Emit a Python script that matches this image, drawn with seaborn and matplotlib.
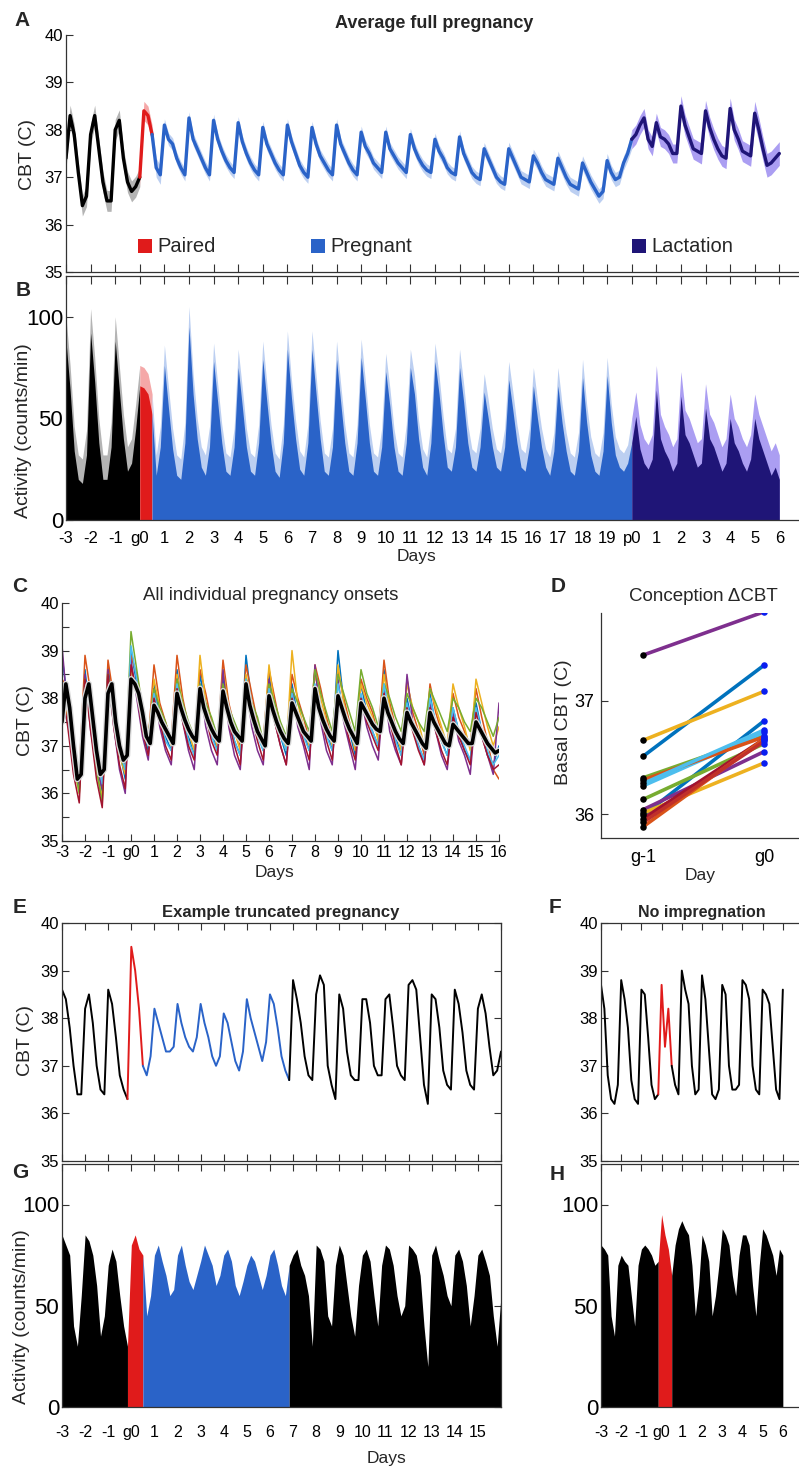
import numpy as np
import pandas as pd
import seaborn as sns
import matplotlib.pyplot as plt
from matplotlib.patches import Rectangle

W, H = 799, 1467

# ---------------- data ----------------
# A: mean CBT, 6 samples per day from day -3 to day 26 (p0 = day 20)
cbt_avg = [
    37.4, 38.3, 37.9, 37.1, 36.4, 36.6,
    37.9, 38.3, 37.6, 36.9, 36.5, 36.5,
    38.0, 38.2, 37.4, 36.9, 36.7, 36.8,
    37.0, 38.4, 38.3, 37.9, 37.2, 37.05,
    38.1, 37.8, 37.7, 37.4, 37.2, 37.05,
    38.25, 37.8, 37.6, 37.4, 37.2, 37.05,
    38.2, 37.8, 37.55, 37.35, 37.2, 37.1,
    38.15, 37.75, 37.5, 37.3, 37.15, 37.05,
    38.05, 37.7, 37.5, 37.3, 37.15, 37.05,
    38.1, 37.75, 37.5, 37.25, 37.1, 37.0,
    38.05, 37.7, 37.45, 37.3, 37.15, 37.05,
    38.1, 37.7, 37.5, 37.3, 37.15, 37.05,
    37.95, 37.65, 37.5, 37.3, 37.2, 37.1,
    37.95, 37.6, 37.45, 37.3, 37.2, 37.1,
    37.9, 37.6, 37.4, 37.25, 37.15, 37.1,
    37.8, 37.55, 37.4, 37.2, 37.1, 37.05,
    37.85, 37.5, 37.3, 37.1, 37.0, 36.95,
    37.6, 37.4, 37.2, 37.0, 36.9, 36.85,
    37.6, 37.4, 37.2, 37.0, 36.95, 36.9,
    37.45, 37.3, 37.1, 36.95, 36.9, 36.85,
    37.4, 37.2, 37.0, 36.85, 36.8, 36.75,
    37.3, 37.1, 36.9, 36.75, 36.6, 36.7,
    37.35, 37.1, 36.95, 37.0, 37.3, 37.5,
    37.8, 37.9, 38.1, 38.25, 37.8, 37.65,
    38.15, 37.85, 37.8, 37.7, 37.5, 37.5,
    38.5, 38.1, 37.85, 37.6, 37.55, 37.5,
    38.4, 38.05, 37.8, 37.6, 37.45, 37.4,
    38.45, 38.0, 37.8, 37.55, 37.5, 37.45,
    38.35, 38.0, 37.6, 37.25, 37.3, 37.4,
    37.5,
]
cbt_avg_sem = [0.22, 0.22, 0.22, 0.2,
               0.13, 0.13, 0.13, 0.13, 0.13, 0.13, 0.13, 0.13, 0.13, 0.13,
               0.13, 0.13, 0.13, 0.13, 0.14, 0.14, 0.15, 0.15, 0.15,
               0.2, 0.2, 0.22, 0.22, 0.22, 0.25]

# B: mean activity, same sampling
act_avg = [
    88, 64, 34, 20, 18, 32,
    92, 68, 38, 20, 20, 36,
    88, 64, 40, 24, 28, 45,
    66, 65, 62, 52, 22, 36,
    76, 55, 35, 22, 20, 38,
    95, 62, 40, 26, 22, 36,
    78, 58, 38, 24, 22, 36,
    75, 56, 36, 24, 22, 38,
    79, 58, 38, 24, 21, 38,
    84, 60, 40, 25, 22, 38,
    84, 62, 40, 24, 22, 36,
    79, 58, 38, 24, 22, 38,
    80, 60, 38, 24, 22, 36,
    73, 56, 36, 24, 22, 38,
    75, 62, 40, 26, 22, 38,
    78, 62, 42, 26, 24, 36,
    75, 58, 38, 26, 24, 36,
    63, 50, 36, 26, 24, 36,
    69, 54, 38, 26, 24, 36,
    66, 50, 36, 26, 22, 34,
    66, 48, 34, 24, 22, 34,
    70, 48, 32, 24, 22, 34,
    71, 48, 32, 26, 24, 28,
    38, 51, 35, 28, 25, 30,
    64, 40, 34, 30, 24, 28,
    61, 42, 38, 32, 26, 28,
    55, 40, 36, 30, 24, 28,
    50, 38, 34, 28, 24, 30,
    50, 40, 34, 28, 22, 26,
    20,
]
act_avg_sem = [12, 12, 12, 10,
               10, 10, 9, 9, 9, 9, 9, 9, 9, 9,
               9, 9, 9, 9, 9, 9, 9, 9, 9,
               12, 12, 12, 12, 12, 12]

# C: group mean (6/day) and individual traces (4/day), day -3 to 16
onset_mean = [
    37.5, 38.3, 37.8, 37.0, 36.3, 36.4,
    38.0, 38.3, 37.6, 36.9, 36.4, 36.5,
    38.1, 38.3, 37.5, 37.0, 36.7, 36.8,
    38.4, 38.3, 38.1, 37.7, 37.2, 37.05,
    37.85, 37.7, 37.5, 37.35, 37.2, 37.05,
    38.1, 37.8, 37.55, 37.35, 37.2, 37.1,
    38.2, 37.8, 37.55, 37.35, 37.2, 37.1,
    38.15, 37.8, 37.5, 37.3, 37.2, 37.1,
    38.3, 37.85, 37.55, 37.3, 37.15, 37.0,
    38.05, 37.75, 37.5, 37.3, 37.15, 37.05,
    37.9, 37.7, 37.5, 37.3, 37.2, 37.1,
    38.2, 37.8, 37.55, 37.35, 37.2, 37.1,
    38.05, 37.8, 37.55, 37.35, 37.2, 37.05,
    37.9, 37.75, 37.6, 37.45, 37.35, 37.3,
    38.0, 37.7, 37.5, 37.3, 37.15, 37.05,
    37.7, 37.5, 37.35, 37.2, 37.05, 36.95,
    37.7, 37.5, 37.35, 37.2, 37.05, 37.0,
    37.45, 37.35, 37.25, 37.15, 37.05, 37.05,
    37.5, 37.35, 37.2, 37.05, 36.95, 36.85,
    36.9,
]
ind_blue = [38.9, 37.9, 36.8, 36.1, 38.6, 37.5, 36.6, 36.0, 38.7, 37.6, 36.9, 36.3,
            39.0, 38.3, 37.3, 36.9, 38.3, 37.6, 37.2, 36.9, 38.6, 37.7, 37.2, 36.8,
            38.5, 37.8, 37.3, 36.9, 38.4, 37.6, 37.1, 36.8, 38.9, 37.9, 37.3, 36.9,
            38.5, 37.7, 37.2, 36.8, 38.3, 37.6, 37.3, 36.9, 38.6, 37.8, 37.3, 36.9,
            39.0, 37.9, 37.3, 36.8, 38.3, 37.7, 37.3, 37.0, 38.6, 37.7, 37.2, 36.8,
            38.0, 37.4, 37.0, 36.7, 38.1, 37.4, 37.1, 36.8, 37.8, 37.3, 36.9, 36.7,
            37.9, 37.3, 36.8, 36.6, 37.0]
ind_orange = [38.4, 38.2, 37.2, 36.4, 38.9, 38.1, 36.9, 36.2, 38.8, 38.0, 37.1, 36.6,
              38.9, 38.5, 37.8, 37.1, 38.7, 37.9, 37.5, 37.1, 38.9, 38.0, 37.4, 37.1,
              38.6, 38.1, 37.5, 37.0, 38.8, 37.9, 37.4, 37.0, 38.7, 38.1, 37.5, 37.1,
              38.6, 38.0, 37.4, 37.0, 38.5, 38.0, 37.6, 37.1, 38.7, 38.2, 37.6, 37.1,
              38.6, 38.0, 37.5, 37.0, 38.4, 38.0, 37.7, 37.2, 38.8, 37.9, 37.4, 37.0,
              38.4, 37.7, 37.3, 36.8, 38.3, 37.7, 37.3, 37.0, 38.1, 37.6, 37.3, 37.0,
              38.2, 37.6, 37.1, 36.5, 36.3]
ind_yellow = [38.0, 37.6, 36.6, 36.0, 38.3, 37.4, 36.5, 35.9, 38.4, 37.5, 36.8, 36.4,
              38.6, 38.2, 37.6, 37.0, 38.4, 37.8, 37.4, 37.0, 38.5, 37.9, 37.3, 36.9,
              38.9, 37.9, 37.4, 37.0, 38.6, 37.8, 37.3, 36.9, 38.5, 37.9, 37.4, 37.0,
              38.7, 37.8, 37.3, 36.9, 39.0, 37.9, 37.4, 37.0, 38.5, 38.0, 37.5, 37.0,
              38.7, 37.9, 37.4, 36.9, 38.3, 37.9, 37.6, 37.1, 38.5, 37.8, 37.3, 36.9,
              38.3, 37.8, 37.5, 37.0, 38.2, 37.8, 37.4, 37.0, 38.3, 37.8, 37.4, 36.9,
              38.4, 37.9, 37.4, 37.0, 37.4]
ind_purple = [39.1, 37.7, 36.5, 36.2, 38.5, 37.3, 36.6, 36.1, 38.6, 37.4, 36.5, 36.0,
              38.8, 38.0, 37.2, 36.7, 38.2, 37.4, 36.9, 36.6, 38.4, 37.5, 36.9, 36.5,
              38.3, 37.4, 36.9, 36.6, 38.6, 37.4, 36.8, 36.5, 38.3, 37.4, 36.9, 36.6,
              38.4, 37.5, 37.0, 36.6, 38.2, 37.4, 37.0, 36.5, 38.7, 37.5, 36.9, 36.6,
              38.4, 37.5, 37.0, 36.5, 38.0, 37.4, 37.0, 36.7, 38.2, 37.3, 36.9, 36.6,
              38.5, 37.5, 37.0, 36.6, 37.9, 37.3, 36.8, 36.5, 37.7, 37.1, 36.8, 36.4,
              37.8, 37.2, 36.8, 36.4, 37.9]
ind_green = [38.3, 37.8, 36.7, 36.0, 38.4, 37.6, 36.5, 35.8, 38.5, 37.7, 36.8, 36.5,
             39.4, 38.6, 37.8, 37.2, 38.2, 37.8, 37.5, 37.1, 38.4, 37.9, 37.5, 37.2,
             38.3, 37.9, 37.6, 37.2, 38.3, 37.8, 37.5, 37.2, 38.4, 37.9, 37.6, 37.1,
             38.3, 37.9, 37.5, 37.2, 38.2, 37.9, 37.6, 37.3, 38.6, 38.1, 37.7, 37.3,
             38.5, 38.1, 37.7, 37.3, 38.6, 38.1, 37.8, 37.4, 38.3, 38.0, 37.6, 37.3,
             38.1, 37.8, 37.5, 37.3, 38.2, 37.9, 37.6, 37.3, 38.0, 37.8, 37.5, 37.3,
             38.0, 37.8, 37.5, 37.2, 37.6]
ind_lightblue = [37.8, 37.5, 36.8, 36.3, 38.2, 37.6, 36.8, 36.2, 38.3, 37.5, 36.9, 36.5,
                 39.1, 38.4, 37.4, 37.0, 38.1, 37.6, 37.1, 36.9, 38.3, 37.6, 37.1, 36.8,
                 38.2, 37.7, 37.2, 36.9, 38.2, 37.5, 37.1, 36.8, 38.4, 37.7, 37.2, 36.9,
                 38.2, 37.6, 37.2, 36.9, 38.1, 37.6, 37.2, 36.9, 38.3, 37.7, 37.2, 36.9,
                 38.3, 37.7, 37.3, 37.0, 38.1, 37.6, 37.3, 37.0, 38.3, 37.6, 37.1, 36.8,
                 37.9, 37.4, 37.0, 36.7, 38.0, 37.5, 37.1, 36.8, 37.8, 37.3, 37.0, 36.7,
                 37.8, 37.3, 36.9, 36.6, 36.8]
ind_darkred = [38.2, 37.4, 36.4, 35.8, 38.4, 37.3, 36.3, 35.7, 38.5, 37.4, 36.6, 36.1,
               38.7, 38.1, 37.3, 36.8, 38.0, 37.5, 37.0, 36.7, 38.2, 37.5, 37.0, 36.7,
               38.1, 37.6, 37.1, 36.8, 38.1, 37.5, 37.0, 36.6, 38.2, 37.6, 37.1, 36.7,
               38.1, 37.5, 37.0, 36.6, 38.0, 37.5, 37.1, 36.7, 38.2, 37.6, 37.1, 36.7,
               38.1, 37.6, 37.1, 36.7, 38.0, 37.5, 37.2, 36.9, 38.1, 37.5, 37.0, 36.6,
               37.8, 37.3, 36.9, 36.6, 37.8, 37.3, 36.9, 36.6, 37.6, 37.2, 36.9, 36.6,
               37.7, 37.2, 36.8, 36.5, 36.6]

# D: basal CBT day before and day of conception
basal_gm1 = [37.40, 36.51, 36.65, 35.99, 36.32, 36.25, 36.30,
             36.13, 36.04, 36.01, 35.96, 35.89, 35.93, 36.27]
basal_g0 = [37.78, 37.31, 37.08, 36.82, 36.69, 36.72, 36.68,
            36.62, 36.55, 36.45, 36.66, 36.66, 36.64, 36.74]

# E: truncated pregnancy CBT (6/day, day -3 to 16)
cbt_trunc = [
    38.6, 38.4, 37.8, 37.0, 36.4, 36.4,
    38.2, 38.5, 37.9, 37.0, 36.5, 36.4,
    38.6, 38.3, 37.6, 36.8, 36.5, 36.3,
    39.5, 39.0, 38.2, 37.0, 36.8, 37.2,
    38.2, 37.9, 37.6, 37.3, 37.3, 37.4,
    38.3, 37.9, 37.6, 37.4, 37.3, 37.6,
    38.3, 37.9, 37.6, 37.2, 37.0, 37.2,
    38.1, 37.9, 37.5, 37.1, 36.9, 37.3,
    38.4, 38.0, 37.7, 37.4, 37.1, 37.5,
    38.5, 38.3, 37.8, 37.2, 36.9, 36.7,
    38.8, 38.4, 37.9, 37.2, 36.8, 36.7,
    38.5, 38.9, 38.7, 37.0, 36.6, 36.3,
    38.5, 38.2, 37.3, 36.8, 36.7, 36.7,
    38.4, 38.4, 37.9, 37.0, 36.8, 36.8,
    38.4, 38.5, 37.8, 37.0, 36.8, 36.7,
    38.7, 38.8, 38.6, 37.6, 36.6, 36.2,
    38.5, 38.4, 37.8, 36.9, 36.6, 36.5,
    38.6, 38.3, 37.7, 36.9, 36.6, 36.5,
    38.2, 38.5, 38.1, 37.4, 36.8, 36.9,
    37.3,
]
# F: no impregnation CBT (6/day, day -3 to 6)
cbt_noimp = [
    38.7, 38.2, 36.8, 36.3, 36.2, 36.6,
    38.8, 38.4, 37.8, 36.7, 36.3, 36.2,
    38.6, 38.5, 37.6, 36.6, 36.3, 36.4,
    38.7, 37.4, 38.2, 37.0, 36.6, 36.4,
    39.0, 38.6, 38.3, 37.0, 36.4, 36.5,
    38.9, 38.4, 37.4, 36.4, 36.3, 36.5,
    38.7, 38.5, 37.0, 36.5, 36.5, 36.6,
    38.8, 38.7, 38.4, 37.0, 36.5, 36.4,
    38.6, 38.5, 38.3, 37.4, 36.5, 36.3,
    38.6,
]
# G: truncated pregnancy activity (6/day, day -3 to 16)
act_trunc = [
    85, 80, 75, 40, 30, 55,
    85, 82, 75, 60, 35, 45,
    70, 78, 72, 55, 40, 30,
    80, 85, 78, 75, 45, 55,
    75, 80, 72, 65, 55, 58,
    75, 80, 70, 62, 58, 65,
    72, 80, 75, 70, 60, 65,
    75, 78, 72, 60, 55, 62,
    70, 75, 72, 65, 58, 65,
    75, 78, 70, 60, 55, 70,
    75, 78, 70, 65, 55, 30,
    80, 78, 72, 45, 40, 70,
    80, 75, 60, 45, 35, 60,
    75, 78, 72, 55, 40, 70,
    80, 78, 70, 55, 45, 50,
    80, 78, 75, 65, 40, 20,
    75, 80, 72, 65, 55, 50,
    75, 78, 72, 60, 40, 55,
    75, 78, 72, 65, 45, 30,
    55,
]
# H: no impregnation activity (6/day, day -3 to 6)
act_noimp = [
    80, 78, 75, 45, 35, 70,
    75, 72, 70, 55, 40, 70,
    78, 80, 78, 75, 70, 72,
    95, 85, 78, 65, 80, 88,
    92, 88, 85, 70, 45, 60,
    85, 80, 72, 45, 55, 70,
    88, 85, 80, 65, 55, 75,
    85, 85, 80, 60, 45, 70,
    88, 85, 80, 75, 65, 78,
    75,
]

long_days = ['-3', '-2', '-1', 'g0'] + [str(i) for i in range(1, 20)] + ['p0'] + [str(i) for i in range(1, 7)]
onset_days = ['-3', '-2', '-1', 'g0'] + [str(i) for i in range(1, 17)]

# ---------------- styling ----------------
sns.set_style("ticks")
plt.rcParams['font.family'] = ['Liberation Sans', 'DejaVu Sans']
plt.rcParams.update({
    'xtick.direction': 'in', 'ytick.direction': 'in',
    'axes.linewidth': 0.9, 'axes.edgecolor': '#333333',
    'xtick.color': '#333333', 'ytick.color': '#333333',
    'xtick.labelcolor': 'black', 'ytick.labelcolor': 'black',
})

BLACK, RED, BLUE, NAVY = '#000000', '#e01b1b', '#2a63c8', '#1f1577'
GREY_B, RED_B, BLUE_B, NAVY_B = '#b4b4b4', '#f5a8a8', '#bccff1', '#ab9ef2'
MATLAB = ['#0072BD', '#D95319', '#EDB120', '#7E2F8E', '#77AC30', '#4DBEEE', '#A2142F']

fig = plt.figure(figsize=(W / 100, H / 100), dpi=100)


def px_axes(l, t, r, b):
    return fig.add_axes([l / W, 1 - b / H, (r - l) / W, (b - t) / H])


def px_text(x, y, s, **kw):
    kw.setdefault('ha', 'center')
    kw.setdefault('va', 'center')
    fig.text(x / W, 1 - y / H, s, **kw)


def days_axis(n, per_day=6):
    return np.arange(n) / per_day - 3


def draw_line(ax, x, y, segs, lw, band=None):
    for d0, d1, col, bcol in segs:
        m = (x >= d0 - 1e-6) & (x <= d1 + 1e-6)
        if band is not None:
            ax.fill_between(x[m], y[m] - band[m], y[m] + band[m], color=bcol, lw=0)
        sns.lineplot(x=x[m], y=y[m], ax=ax, color=col, lw=lw)


def draw_fill(ax, x, y, segs, band=None):
    for d0, d1, col, bcol in segs:
        m = (x >= d0 - 1e-6) & (x <= d1 + 1e-6)
        if band is not None:
            ax.fill_between(x[m], 0, y[m] + band[m], color=bcol, lw=0)
        ax.fill_between(x[m], 0, y[m], color=col, lw=0)


# ---------------- A ----------------
axA = px_axes(66, 35, 799, 272)
xa = days_axis(len(cbt_avg))
sem_a = np.append(np.repeat(cbt_avg_sem, 6), cbt_avg_sem[-1])
segs_a = [(-3, 0, BLACK, GREY_B), (0, 0.5, RED, RED_B), (0.5, 20, BLUE, BLUE_B), (20, 26, NAVY, NAVY_B)]
draw_line(axA, xa, np.array(cbt_avg), segs_a, 2.4, band=sem_a)
axA.set_xlim(-3, 26.8)
axA.set_ylim(35, 40)
axA.set_xticks(range(-3, 27))
axA.set_xticklabels([])
axA.set_yticks(range(35, 41))
axA.tick_params(axis='x', length=6)
axA.tick_params(axis='y', labelsize=12, length=5, pad=2)
sns.despine(ax=axA)

for (x0, lab), col in zip([(138, 'Paired'), (311, 'Pregnant'), (632, 'Lactation')], [RED, BLUE, NAVY]):
    fig.patches.append(Rectangle((x0 / W, 1 - 253 / H), 14 / W, 14 / H, transform=fig.transFigure,
                                 color=col, lw=0))
    px_text(x0 + 19, 246, lab, ha='left', fontsize=14.5)

# ---------------- B ----------------
axB = px_axes(66, 276, 799, 520)
xb = days_axis(len(act_avg))
sem_b = np.append(np.repeat(act_avg_sem, 6), act_avg_sem[-1])
segs_b = [(-3, 0, BLACK, GREY_B), (0, 0.5, RED, RED_B), (0.5, 20, BLUE, BLUE_B), (20, 26, NAVY, NAVY_B)]
draw_fill(axB, xb, np.array(act_avg, float), segs_b, band=sem_b)
axB.set_xlim(-3, 26.8)
axB.set_ylim(0, 120)
axB.set_xticks(range(-3, 27))
axB.set_xticklabels(long_days)
axB.set_yticks([0, 50, 100])
axB.tick_params(axis='x', top=True, bottom=False, labelsize=12, length=6, pad=8)
axB.tick_params(axis='y', labelsize=16, length=5, pad=2)
axB.spines['right'].set_visible(False)

# ---------------- C ----------------
axC = px_axes(62, 603, 499, 841)
xc = days_axis(len(onset_mean))
xi = days_axis(len(ind_blue), per_day=4)
for trace, col in zip([ind_blue, ind_orange, ind_yellow, ind_purple, ind_green, ind_lightblue, ind_darkred], MATLAB):
    sns.lineplot(x=xi, y=trace, ax=axC, color=col, lw=1.1)
sns.lineplot(x=xc, y=onset_mean, ax=axC, color='#d9d9d9', lw=4.5)
sns.lineplot(x=xc, y=onset_mean, ax=axC, color=BLACK, lw=2.6)
axC.set_xlim(-3, 16)
axC.set_ylim(35, 40)
axC.set_xticks(range(-3, 17))
axC.set_xticklabels(onset_days)
axC.set_yticks(np.arange(35, 40.01, 0.5))
axC.set_yticklabels([str(int(v)) if v == int(v) else '' for v in np.arange(35, 40.01, 0.5)])
axC.tick_params(axis='x', labelsize=11.5, length=5, pad=3)
axC.tick_params(axis='y', labelsize=12, length=5, pad=2)
sns.despine(ax=axC)

# ---------------- D ----------------
axD = px_axes(601, 613, 799, 838)
animals = list(range(len(basal_gm1)))
d_cols = [MATLAB[3], MATLAB[0], MATLAB[2], MATLAB[0], MATLAB[4], MATLAB[5], MATLAB[1],
          MATLAB[4], MATLAB[3], MATLAB[2], MATLAB[6], MATLAB[1], '#c0302a', MATLAB[5]]
df_d = pd.DataFrame({
    'animal': animals * 2,
    'day': [1] * len(animals) + [2] * len(animals),
    'cbt': basal_gm1 + basal_g0,
})
sns.lineplot(data=df_d, x='day', y='cbt', hue='animal', palette=d_cols, lw=2.6, legend=False, ax=axD)
sns.scatterplot(x=[1] * len(animals), y=basal_gm1, ax=axD, color='black', s=22, lw=0, zorder=5)
sns.scatterplot(x=[2] * len(animals), y=basal_g0, ax=axD, color='#0a1ef0', s=22, lw=0, zorder=5)
axD.set_xlim(0.65, 2.29)
axD.set_ylim(35.79, 37.77)
axD.set_xticks([1, 2])
axD.set_xticklabels(['g-1', 'g0'])
axD.set_yticks([36, 37])
axD.tick_params(axis='x', length=0, labelsize=13, pad=8)
axD.tick_params(axis='y', labelsize=13, length=5, pad=5)
sns.despine(ax=axD)

# ---------------- E ----------------
axE = px_axes(62, 923, 501, 1161)
xe = days_axis(len(cbt_trunc))
segs_e = [(-3, -1 / 6, BLACK, None), (-1 / 6, 0.5, RED, None), (0.5, 41 / 6, BLUE, None), (41 / 6, 16, BLACK, None)]
draw_line(axE, xe, np.array(cbt_trunc), segs_e, 1.4)
axE.set_xlim(-3, 16)
axE.set_ylim(35, 40)
axE.set_xticks(range(-3, 17))
axE.set_xticklabels([])
axE.set_yticks(range(35, 41))
axE.tick_params(axis='x', top=True, length=5)
axE.tick_params(axis='y', right=True, labelsize=12, length=5, pad=2)

# ---------------- G ----------------
axG = px_axes(62, 1164, 501, 1407)
xg = days_axis(len(act_trunc))
draw_fill(axG, xg, np.array(act_trunc, float), segs_e)
axG.set_xlim(-3, 16)
axG.set_ylim(0, 120)
axG.set_xticks(range(-3, 16))
axG.set_xticklabels(onset_days[:-1])
axG.set_yticks([0, 50, 100])
axG.tick_params(axis='x', top=True, bottom=False, labelsize=11.5, length=5, pad=13)
axG.tick_params(axis='y', right=True, labelsize=16, length=5, pad=2)

# ---------------- F ----------------
axF = px_axes(601, 923, 799, 1161)
xf = days_axis(len(cbt_noimp))
segs_f = [(-3, -1 / 6, BLACK, None), (-1 / 6, 0.5, RED, None), (0.5, 6, BLACK, None)]
draw_line(axF, xf, np.array(cbt_noimp), segs_f, 1.4)
axF.set_xlim(-3, 6.8)
axF.set_ylim(35, 40)
axF.set_xticks(range(-3, 7))
axF.set_xticklabels([])
axF.set_yticks(range(35, 41))
axF.tick_params(axis='x', top=True, length=5)
axF.tick_params(axis='y', labelsize=12, length=5, pad=2)
axF.spines['right'].set_visible(False)

# ---------------- H ----------------
axH = px_axes(601, 1164, 799, 1407)
xh = days_axis(len(act_noimp))
draw_fill(axH, xh, np.array(act_noimp, float), segs_f)
axH.set_xlim(-3, 6.8)
axH.set_ylim(0, 120)
axH.set_xticks(range(-3, 7))
axH.set_xticklabels(['-3', '-2', '-1', 'g0', '1', '2', '3', '4', '5', '6'])
axH.set_yticks([0, 50, 100])
axH.tick_params(axis='x', top=True, bottom=False, labelsize=11.5, length=5, pad=13)
axH.tick_params(axis='y', labelsize=16, length=5, pad=2)
axH.spines['right'].set_visible(False)

for ax in [axA, axB, axC, axD, axE, axF, axG, axH]:
    ax.set_xlabel('')
    ax.set_ylabel('')

# ---------------- texts ----------------
for x, y, s in [(22, 20, 'A'), (23, 290, 'B'), (20, 587, 'C'), (558, 587, 'D'),
                (20, 907, 'E'), (555, 907, 'F'), (20, 1173, 'G'), (557, 1175, 'H')]:
    px_text(x, y, s, fontsize=15, fontweight='bold')

px_text(434, 23, 'Average full pregnancy', fontsize=13, fontweight='bold')
px_text(271, 596, 'All individual pregnancy onsets', fontsize=13.4)
px_text(703, 597, 'Conception \u0394CBT', fontsize=13.5)
px_text(281, 912, 'Example truncated pregnancy', fontsize=12, fontweight='bold')
px_text(702, 912, 'No impregnation', fontsize=11.5, fontweight='bold')

px_text(27, 155, 'CBT (C)', fontsize=14, rotation=90)
px_text(24, 431, 'Activity (counts/min)', fontsize=14, rotation=90)
px_text(25, 720, 'CBT (C)', fontsize=14, rotation=90)
px_text(563, 722, 'Basal CBT (C)', fontsize=14, rotation=90)
px_text(25, 1040, 'CBT (C)', fontsize=14, rotation=90)
px_text(22, 1317, 'Activity (counts/min)', fontsize=14, rotation=90)

px_text(416, 556, 'Days', fontsize=12.5)
px_text(274, 873, 'Days', fontsize=12.5)
px_text(700, 875, 'Day', fontsize=12.5)
px_text(387, 1458, 'Days', fontsize=12.5)

fig.savefig('out.png', dpi=100)
